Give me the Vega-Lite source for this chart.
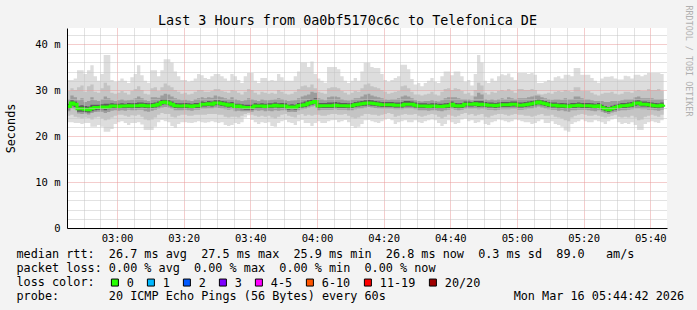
{
"$schema": "https://vega.github.io/schema/vega-lite/v6.json",
"width": 600, "height": 200,
"autosize": {"type": "none"},
"padding": {"left": 67, "top": 28, "right": 30, "bottom": 82},
"background": "#f3f3f3",
"view": {"fill": "#ffffff", "stroke": null},
"config": {"font": "DejaVu Sans Mono"},
"title": {"text": "Last 3 Hours from 0a0bf5170c6c to Telefonica DE", "font": "DejaVu Sans Mono", "fontSize": 13.4, "fontWeight": "normal", "color": "#000000", "anchor": "middle", "frame": "group", "dx": -19.5, "dy": 37, "offset": 4, "baseline": "alphabetic"},
"data": {"values": [
{"t":165,"med":26.4,"lo1":23.0,"hi1":32.2,"lo2":24.4,"hi2":29.8,"lo3":25.4,"hi3":28.0,"lo4":25.8,"hi4":27.0},
{"t":166,"med":27.2,"lo1":23.0,"hi1":32.2,"lo2":24.6,"hi2":30.4,"lo3":26.0,"hi3":28.8,"lo4":26.6,"hi4":27.8},
{"t":167,"med":26.9,"lo1":22.8,"hi1":32.5,"lo2":24.2,"hi2":30.0,"lo3":25.8,"hi3":28.4,"lo4":26.3,"hi4":27.5},
{"t":168,"med":25.9,"lo1":22.8,"hi1":34.3,"lo2":24.0,"hi2":30.6,"lo3":24.9,"hi3":27.8,"lo4":25.3,"hi4":26.6},
{"t":169,"med":25.9,"lo1":22.6,"hi1":34.3,"lo2":23.8,"hi2":31.0,"lo3":24.8,"hi3":28.2,"lo4":25.3,"hi4":26.7},
{"t":170,"med":25.8,"lo1":22.8,"hi1":33.5,"lo2":24.0,"hi2":29.6,"lo3":24.9,"hi3":27.4,"lo4":25.2,"hi4":26.5},
{"t":171,"med":25.7,"lo1":22.8,"hi1":34.3,"lo2":23.9,"hi2":30.8,"lo3":24.7,"hi3":27.6,"lo4":25.1,"hi4":26.4},
{"t":172,"med":26.0,"lo1":22.0,"hi1":35.4,"lo2":23.6,"hi2":31.2,"lo3":25.0,"hi3":28.4,"lo4":25.4,"hi4":26.8},
{"t":173,"med":26.2,"lo1":22.0,"hi1":33.0,"lo2":24.0,"hi2":29.6,"lo3":25.2,"hi3":27.8,"lo4":25.6,"hi4":26.8},
{"t":174,"med":26.2,"lo1":22.4,"hi1":32.0,"lo2":24.2,"hi2":29.4,"lo3":25.3,"hi3":27.6,"lo4":25.7,"hi4":26.8},
{"t":175,"med":26.3,"lo1":22.0,"hi1":33.5,"lo2":23.8,"hi2":30.4,"lo3":25.3,"hi3":28.0,"lo4":25.8,"hi4":26.9},
{"t":176,"med":26.2,"lo1":20.9,"hi1":37.6,"lo2":23.4,"hi2":31.6,"lo3":25.0,"hi3":28.6,"lo4":25.6,"hi4":27.0},
{"t":177,"med":26.3,"lo1":20.9,"hi1":37.6,"lo2":23.6,"hi2":31.0,"lo3":25.2,"hi3":28.2,"lo4":25.8,"hi4":27.0},
{"t":178,"med":26.5,"lo1":21.5,"hi1":32.2,"lo2":24.0,"hi2":29.4,"lo3":25.5,"hi3":27.8,"lo4":26.0,"hi4":27.1},
{"t":179,"med":26.5,"lo1":22.6,"hi1":31.8,"lo2":24.4,"hi2":29.2,"lo3":25.6,"hi3":27.6,"lo4":26.0,"hi4":27.0},
{"t":180,"med":26.4,"lo1":23.0,"hi1":32.0,"lo2":24.6,"hi2":29.4,"lo3":25.5,"hi3":27.8,"lo4":25.9,"hi4":27.0},
{"t":181,"med":26.5,"lo1":23.2,"hi1":32.5,"lo2":24.6,"hi2":29.8,"lo3":25.6,"hi3":28.0,"lo4":26.0,"hi4":27.1},
{"t":182,"med":26.5,"lo1":22.8,"hi1":32.0,"lo2":24.4,"hi2":29.4,"lo3":25.5,"hi3":27.7,"lo4":26.0,"hi4":27.0},
{"t":183,"med":26.6,"lo1":22.4,"hi1":31.5,"lo2":24.2,"hi2":29.0,"lo3":25.7,"hi3":27.8,"lo4":26.1,"hi4":27.2},
{"t":184,"med":26.5,"lo1":22.8,"hi1":32.8,"lo2":24.5,"hi2":29.8,"lo3":25.6,"hi3":27.9,"lo4":26.0,"hi4":27.1},
{"t":185,"med":26.6,"lo1":22.8,"hi1":33.5,"lo2":24.4,"hi2":30.2,"lo3":25.6,"hi3":28.2,"lo4":26.1,"hi4":27.2},
{"t":186,"med":26.6,"lo1":23.0,"hi1":35.4,"lo2":24.6,"hi2":30.8,"lo3":25.7,"hi3":28.6,"lo4":26.1,"hi4":27.3},
{"t":187,"med":26.7,"lo1":22.5,"hi1":33.2,"lo2":24.2,"hi2":30.0,"lo3":25.7,"hi3":28.2,"lo4":26.2,"hi4":27.3},
{"t":188,"med":26.6,"lo1":21.3,"hi1":32.0,"lo2":23.6,"hi2":29.2,"lo3":25.4,"hi3":27.8,"lo4":26.1,"hi4":27.2},
{"t":189,"med":26.5,"lo1":21.3,"hi1":31.6,"lo2":23.4,"hi2":29.0,"lo3":25.3,"hi3":27.6,"lo4":26.0,"hi4":27.1},
{"t":190,"med":26.6,"lo1":21.3,"hi1":34.3,"lo2":23.6,"hi2":30.4,"lo3":25.5,"hi3":28.4,"lo4":26.1,"hi4":27.2},
{"t":191,"med":26.7,"lo1":22.0,"hi1":34.3,"lo2":24.0,"hi2":30.6,"lo3":25.7,"hi3":28.4,"lo4":26.2,"hi4":27.3},
{"t":192,"med":26.9,"lo1":23.0,"hi1":33.0,"lo2":24.6,"hi2":29.8,"lo3":25.9,"hi3":28.3,"lo4":26.4,"hi4":27.5},
{"t":193,"med":27.3,"lo1":23.5,"hi1":34.3,"lo2":25.0,"hi2":30.6,"lo3":26.2,"hi3":28.8,"lo4":26.8,"hi4":28.0},
{"t":194,"med":27.4,"lo1":23.2,"hi1":36.7,"lo2":24.8,"hi2":31.4,"lo3":26.3,"hi3":29.2,"lo4":26.9,"hi4":28.0},
{"t":195,"med":27.2,"lo1":23.0,"hi1":36.7,"lo2":24.8,"hi2":31.0,"lo3":26.2,"hi3":29.0,"lo4":26.7,"hi4":27.8},
{"t":196,"med":26.9,"lo1":22.2,"hi1":36.0,"lo2":24.2,"hi2":30.6,"lo3":25.9,"hi3":28.6,"lo4":26.4,"hi4":27.5},
{"t":197,"med":26.6,"lo1":21.8,"hi1":34.0,"lo2":24.0,"hi2":30.0,"lo3":25.6,"hi3":28.2,"lo4":26.1,"hi4":27.2},
{"t":198,"med":26.5,"lo1":22.6,"hi1":33.0,"lo2":24.4,"hi2":29.6,"lo3":25.6,"hi3":28.0,"lo4":26.0,"hi4":27.1},
{"t":199,"med":26.5,"lo1":23.0,"hi1":32.2,"lo2":24.6,"hi2":29.2,"lo3":25.6,"hi3":27.8,"lo4":26.0,"hi4":27.1},
{"t":200,"med":26.6,"lo1":23.0,"hi1":32.2,"lo2":24.6,"hi2":29.4,"lo3":25.7,"hi3":27.9,"lo4":26.1,"hi4":27.2},
{"t":201,"med":26.5,"lo1":22.9,"hi1":31.8,"lo2":24.4,"hi2":29.0,"lo3":25.6,"hi3":27.7,"lo4":26.0,"hi4":27.1},
{"t":202,"med":26.4,"lo1":22.8,"hi1":32.0,"lo2":24.4,"hi2":29.2,"lo3":25.5,"hi3":27.6,"lo4":25.9,"hi4":27.0},
{"t":203,"med":26.6,"lo1":23.0,"hi1":32.5,"lo2":24.6,"hi2":29.6,"lo3":25.7,"hi3":28.0,"lo4":26.1,"hi4":27.2},
{"t":204,"med":26.6,"lo1":23.2,"hi1":33.5,"lo2":24.6,"hi2":30.0,"lo3":25.7,"hi3":28.2,"lo4":26.1,"hi4":27.2},
{"t":205,"med":26.9,"lo1":23.0,"hi1":33.2,"lo2":24.6,"hi2":30.0,"lo3":25.9,"hi3":28.4,"lo4":26.4,"hi4":27.5},
{"t":206,"med":26.9,"lo1":22.9,"hi1":32.6,"lo2":24.6,"hi2":29.6,"lo3":25.9,"hi3":28.2,"lo4":26.4,"hi4":27.4},
{"t":207,"med":27.0,"lo1":23.0,"hi1":32.4,"lo2":24.8,"hi2":29.6,"lo3":26.0,"hi3":28.4,"lo4":26.5,"hi4":27.6},
{"t":208,"med":26.9,"lo1":23.2,"hi1":33.0,"lo2":24.8,"hi2":29.8,"lo3":26.0,"hi3":28.3,"lo4":26.4,"hi4":27.5},
{"t":209,"med":27.2,"lo1":23.0,"hi1":33.5,"lo2":24.8,"hi2":30.2,"lo3":26.2,"hi3":28.8,"lo4":26.7,"hi4":27.8},
{"t":210,"med":27.2,"lo1":22.8,"hi1":33.5,"lo2":24.6,"hi2":30.2,"lo3":26.1,"hi3":28.6,"lo4":26.7,"hi4":27.8},
{"t":211,"med":27.0,"lo1":23.0,"hi1":33.0,"lo2":24.6,"hi2":29.8,"lo3":26.0,"hi3":28.4,"lo4":26.5,"hi4":27.6},
{"t":212,"med":26.9,"lo1":22.4,"hi1":32.5,"lo2":24.2,"hi2":29.6,"lo3":25.8,"hi3":28.2,"lo4":26.4,"hi4":27.5},
{"t":213,"med":26.7,"lo1":22.2,"hi1":32.0,"lo2":24.0,"hi2":29.4,"lo3":25.7,"hi3":28.0,"lo4":26.2,"hi4":27.3},
{"t":214,"med":26.8,"lo1":22.4,"hi1":33.5,"lo2":24.2,"hi2":30.0,"lo3":25.8,"hi3":28.4,"lo4":26.3,"hi4":27.4},
{"t":215,"med":26.4,"lo1":22.8,"hi1":33.0,"lo2":24.2,"hi2":29.8,"lo3":25.4,"hi3":28.0,"lo4":25.9,"hi4":27.0},
{"t":216,"med":26.5,"lo1":22.6,"hi1":32.2,"lo2":24.0,"hi2":29.4,"lo3":25.5,"hi3":27.8,"lo4":26.0,"hi4":27.0},
{"t":217,"med":26.3,"lo1":23.0,"hi1":31.5,"lo2":24.4,"hi2":29.0,"lo3":25.4,"hi3":27.6,"lo4":25.8,"hi4":26.9},
{"t":218,"med":26.2,"lo1":24.0,"hi1":33.0,"lo2":24.8,"hi2":29.6,"lo3":25.4,"hi3":27.8,"lo4":25.7,"hi4":26.8},
{"t":219,"med":26.2,"lo1":24.5,"hi1":33.7,"lo2":25.0,"hi2":30.2,"lo3":25.4,"hi3":28.2,"lo4":25.7,"hi4":26.8},
{"t":220,"med":26.2,"lo1":23.5,"hi1":33.7,"lo2":24.6,"hi2":30.0,"lo3":25.3,"hi3":28.0,"lo4":25.7,"hi4":26.8},
{"t":221,"med":26.5,"lo1":23.0,"hi1":32.0,"lo2":24.4,"hi2":29.4,"lo3":25.6,"hi3":27.8,"lo4":26.0,"hi4":27.1},
{"t":222,"med":26.5,"lo1":22.6,"hi1":31.5,"lo2":24.2,"hi2":29.0,"lo3":25.5,"hi3":27.6,"lo4":26.0,"hi4":27.0},
{"t":223,"med":26.5,"lo1":23.0,"hi1":32.6,"lo2":24.4,"hi2":29.6,"lo3":25.6,"hi3":28.0,"lo4":26.0,"hi4":27.1},
{"t":224,"med":26.4,"lo1":22.8,"hi1":32.6,"lo2":24.2,"hi2":29.4,"lo3":25.4,"hi3":27.8,"lo4":25.9,"hi4":27.0},
{"t":225,"med":26.5,"lo1":23.0,"hi1":32.0,"lo2":24.4,"hi2":29.2,"lo3":25.5,"hi3":27.8,"lo4":26.0,"hi4":27.1},
{"t":226,"med":26.5,"lo1":22.2,"hi1":32.2,"lo2":24.0,"hi2":29.4,"lo3":25.4,"hi3":27.9,"lo4":26.0,"hi4":27.1},
{"t":227,"med":26.7,"lo1":22.0,"hi1":32.0,"lo2":23.8,"hi2":29.2,"lo3":25.6,"hi3":28.0,"lo4":26.2,"hi4":27.3},
{"t":228,"med":26.5,"lo1":22.8,"hi1":33.5,"lo2":24.2,"hi2":30.0,"lo3":25.5,"hi3":28.2,"lo4":26.0,"hi4":27.1},
{"t":229,"med":26.6,"lo1":23.2,"hi1":32.8,"lo2":24.6,"hi2":29.6,"lo3":25.6,"hi3":28.0,"lo4":26.1,"hi4":27.2},
{"t":230,"med":26.5,"lo1":23.5,"hi1":32.0,"lo2":24.8,"hi2":29.2,"lo3":25.6,"hi3":27.8,"lo4":26.0,"hi4":27.1},
{"t":231,"med":26.2,"lo1":23.0,"hi1":32.0,"lo2":24.4,"hi2":29.0,"lo3":25.2,"hi3":27.6,"lo4":25.7,"hi4":26.8},
{"t":232,"med":26.3,"lo1":22.8,"hi1":32.0,"lo2":24.2,"hi2":29.2,"lo3":25.3,"hi3":27.7,"lo4":25.8,"hi4":26.9},
{"t":233,"med":26.2,"lo1":22.4,"hi1":33.0,"lo2":24.0,"hi2":29.6,"lo3":25.2,"hi3":27.8,"lo4":25.7,"hi4":26.8},
{"t":234,"med":26.6,"lo1":23.2,"hi1":34.0,"lo2":24.6,"hi2":30.2,"lo3":25.6,"hi3":28.2,"lo4":26.1,"hi4":27.2},
{"t":235,"med":26.7,"lo1":23.5,"hi1":36.0,"lo2":24.8,"hi2":30.8,"lo3":25.8,"hi3":28.6,"lo4":26.2,"hi4":27.3},
{"t":236,"med":26.8,"lo1":22.8,"hi1":36.0,"lo2":24.4,"hi2":31.0,"lo3":25.9,"hi3":28.8,"lo4":26.3,"hi4":27.5},
{"t":237,"med":27.1,"lo1":22.8,"hi1":35.0,"lo2":24.6,"hi2":30.6,"lo3":26.2,"hi3":29.0,"lo4":26.6,"hi4":27.8},
{"t":238,"med":27.3,"lo1":22.2,"hi1":36.2,"lo2":24.4,"hi2":31.2,"lo3":26.4,"hi3":29.6,"lo4":26.8,"hi4":28.0},
{"t":239,"med":27.5,"lo1":22.8,"hi1":33.5,"lo2":24.6,"hi2":30.4,"lo3":26.6,"hi3":29.4,"lo4":27.0,"hi4":28.2},
{"t":240,"med":26.5,"lo1":23.2,"hi1":32.5,"lo2":24.6,"hi2":29.6,"lo3":25.6,"hi3":28.2,"lo4":26.0,"hi4":27.2},
{"t":241,"med":26.6,"lo1":22.8,"hi1":32.0,"lo2":24.4,"hi2":29.4,"lo3":25.7,"hi3":28.0,"lo4":26.1,"hi4":27.2},
{"t":242,"med":26.6,"lo1":22.8,"hi1":31.6,"lo2":24.4,"hi2":29.2,"lo3":25.7,"hi3":27.8,"lo4":26.1,"hi4":27.2},
{"t":243,"med":26.6,"lo1":23.2,"hi1":35.0,"lo2":24.6,"hi2":30.4,"lo3":25.7,"hi3":28.4,"lo4":26.1,"hi4":27.3},
{"t":244,"med":26.6,"lo1":23.4,"hi1":35.0,"lo2":24.8,"hi2":30.6,"lo3":25.7,"hi3":28.6,"lo4":26.1,"hi4":27.3},
{"t":245,"med":26.7,"lo1":23.5,"hi1":35.0,"lo2":24.8,"hi2":30.6,"lo3":25.8,"hi3":28.6,"lo4":26.2,"hi4":27.4},
{"t":246,"med":26.6,"lo1":23.0,"hi1":34.5,"lo2":24.6,"hi2":30.4,"lo3":25.7,"hi3":28.4,"lo4":26.1,"hi4":27.3},
{"t":247,"med":26.6,"lo1":23.2,"hi1":33.0,"lo2":24.6,"hi2":29.8,"lo3":25.7,"hi3":28.0,"lo4":26.1,"hi4":27.2},
{"t":248,"med":26.6,"lo1":23.5,"hi1":32.0,"lo2":24.8,"hi2":29.4,"lo3":25.7,"hi3":27.8,"lo4":26.1,"hi4":27.2},
{"t":249,"med":26.5,"lo1":23.0,"hi1":31.5,"lo2":24.4,"hi2":29.0,"lo3":25.6,"hi3":27.7,"lo4":26.0,"hi4":27.1},
{"t":250,"med":26.6,"lo1":22.2,"hi1":32.0,"lo2":24.0,"hi2":29.4,"lo3":25.6,"hi3":27.9,"lo4":26.1,"hi4":27.2},
{"t":251,"med":26.8,"lo1":21.8,"hi1":32.6,"lo2":23.8,"hi2":29.8,"lo3":25.8,"hi3":28.2,"lo4":26.3,"hi4":27.4},
{"t":252,"med":26.9,"lo1":22.0,"hi1":32.0,"lo2":24.0,"hi2":29.6,"lo3":25.9,"hi3":28.2,"lo4":26.4,"hi4":27.5},
{"t":253,"med":27.0,"lo1":22.6,"hi1":34.0,"lo2":24.4,"hi2":30.4,"lo3":26.0,"hi3":28.6,"lo4":26.5,"hi4":27.6},
{"t":254,"med":27.1,"lo1":23.4,"hi1":35.9,"lo2":24.8,"hi2":31.2,"lo3":26.2,"hi3":29.0,"lo4":26.6,"hi4":27.8},
{"t":255,"med":27.2,"lo1":23.5,"hi1":35.9,"lo2":24.8,"hi2":31.4,"lo3":26.3,"hi3":29.2,"lo4":26.7,"hi4":27.9},
{"t":256,"med":27.1,"lo1":23.2,"hi1":35.0,"lo2":24.6,"hi2":30.8,"lo3":26.2,"hi3":28.8,"lo4":26.6,"hi4":27.8},
{"t":257,"med":27.0,"lo1":23.0,"hi1":34.8,"lo2":24.6,"hi2":30.6,"lo3":26.1,"hi3":28.6,"lo4":26.5,"hi4":27.6},
{"t":258,"med":26.9,"lo1":22.8,"hi1":34.8,"lo2":24.4,"hi2":30.4,"lo3":26.0,"hi3":28.4,"lo4":26.4,"hi4":27.5},
{"t":259,"med":26.8,"lo1":23.2,"hi1":33.5,"lo2":24.6,"hi2":30.0,"lo3":25.9,"hi3":28.2,"lo4":26.3,"hi4":27.4},
{"t":260,"med":26.8,"lo1":23.6,"hi1":32.2,"lo2":24.8,"hi2":29.6,"lo3":25.9,"hi3":28.0,"lo4":26.3,"hi4":27.4},
{"t":261,"med":26.8,"lo1":23.8,"hi1":31.8,"lo2":25.0,"hi2":29.2,"lo3":25.9,"hi3":27.9,"lo4":26.3,"hi4":27.4},
{"t":262,"med":26.8,"lo1":23.4,"hi1":32.2,"lo2":24.8,"hi2":29.4,"lo3":25.9,"hi3":28.0,"lo4":26.3,"hi4":27.4},
{"t":263,"med":26.7,"lo1":22.6,"hi1":32.6,"lo2":24.2,"hi2":29.6,"lo3":25.8,"hi3":28.0,"lo4":26.2,"hi4":27.3},
{"t":264,"med":26.7,"lo1":23.0,"hi1":33.0,"lo2":24.4,"hi2":29.8,"lo3":25.8,"hi3":28.2,"lo4":26.2,"hi4":27.3},
{"t":265,"med":26.7,"lo1":23.2,"hi1":35.5,"lo2":24.6,"hi2":30.8,"lo3":25.8,"hi3":28.6,"lo4":26.2,"hi4":27.4},
{"t":266,"med":26.9,"lo1":23.4,"hi1":35.5,"lo2":24.8,"hi2":31.0,"lo3":26.0,"hi3":28.8,"lo4":26.4,"hi4":27.6},
{"t":267,"med":26.9,"lo1":23.0,"hi1":34.5,"lo2":24.6,"hi2":30.4,"lo3":26.0,"hi3":28.6,"lo4":26.4,"hi4":27.6},
{"t":268,"med":26.9,"lo1":23.0,"hi1":32.4,"lo2":24.6,"hi2":29.6,"lo3":26.0,"hi3":28.2,"lo4":26.4,"hi4":27.5},
{"t":269,"med":26.7,"lo1":23.4,"hi1":31.2,"lo2":24.8,"hi2":29.0,"lo3":25.8,"hi3":27.8,"lo4":26.2,"hi4":27.3},
{"t":270,"med":26.5,"lo1":23.0,"hi1":31.5,"lo2":24.4,"hi2":29.0,"lo3":25.6,"hi3":27.6,"lo4":26.0,"hi4":27.1},
{"t":271,"med":26.5,"lo1":22.8,"hi1":30.8,"lo2":24.2,"hi2":28.8,"lo3":25.6,"hi3":27.5,"lo4":26.0,"hi4":27.1},
{"t":272,"med":26.5,"lo1":23.2,"hi1":31.5,"lo2":24.4,"hi2":29.0,"lo3":25.6,"hi3":27.6,"lo4":26.0,"hi4":27.1},
{"t":273,"med":26.4,"lo1":23.4,"hi1":32.0,"lo2":24.6,"hi2":29.2,"lo3":25.5,"hi3":27.6,"lo4":25.9,"hi4":27.0},
{"t":274,"med":26.5,"lo1":23.6,"hi1":32.6,"lo2":24.8,"hi2":29.6,"lo3":25.6,"hi3":27.8,"lo4":26.0,"hi4":27.1},
{"t":275,"med":26.5,"lo1":23.4,"hi1":31.8,"lo2":24.6,"hi2":29.0,"lo3":25.6,"hi3":27.6,"lo4":26.0,"hi4":27.1},
{"t":276,"med":26.4,"lo1":22.8,"hi1":31.5,"lo2":24.2,"hi2":28.8,"lo3":25.5,"hi3":27.5,"lo4":25.9,"hi4":27.0},
{"t":277,"med":26.4,"lo1":22.2,"hi1":33.0,"lo2":23.8,"hi2":29.6,"lo3":25.4,"hi3":27.8,"lo4":25.9,"hi4":27.0},
{"t":278,"med":26.5,"lo1":22.6,"hi1":34.0,"lo2":24.2,"hi2":30.2,"lo3":25.6,"hi3":28.2,"lo4":26.0,"hi4":27.1},
{"t":279,"med":26.6,"lo1":23.4,"hi1":34.0,"lo2":24.6,"hi2":30.4,"lo3":25.7,"hi3":28.4,"lo4":26.1,"hi4":27.2},
{"t":280,"med":26.9,"lo1":23.0,"hi1":33.2,"lo2":24.4,"hi2":30.0,"lo3":25.9,"hi3":28.4,"lo4":26.4,"hi4":27.5},
{"t":281,"med":26.6,"lo1":22.6,"hi1":34.0,"lo2":24.2,"hi2":30.4,"lo3":25.7,"hi3":28.4,"lo4":26.1,"hi4":27.2},
{"t":282,"med":26.5,"lo1":22.8,"hi1":34.0,"lo2":24.4,"hi2":30.2,"lo3":25.6,"hi3":28.2,"lo4":26.0,"hi4":27.1},
{"t":283,"med":26.6,"lo1":23.6,"hi1":33.0,"lo2":24.8,"hi2":29.8,"lo3":25.7,"hi3":28.0,"lo4":26.1,"hi4":27.2},
{"t":284,"med":26.9,"lo1":23.8,"hi1":31.8,"lo2":25.0,"hi2":29.2,"lo3":25.9,"hi3":28.0,"lo4":26.4,"hi4":27.5},
{"t":285,"med":26.9,"lo1":23.2,"hi1":32.2,"lo2":24.6,"hi2":29.4,"lo3":25.9,"hi3":28.0,"lo4":26.4,"hi4":27.5},
{"t":286,"med":26.9,"lo1":23.4,"hi1":31.0,"lo2":24.8,"hi2":28.8,"lo3":25.9,"hi3":27.8,"lo4":26.4,"hi4":27.4},
{"t":287,"med":27.0,"lo1":22.8,"hi1":33.5,"lo2":24.4,"hi2":30.0,"lo3":26.0,"hi3":28.6,"lo4":26.5,"hi4":27.6},
{"t":288,"med":26.8,"lo1":23.0,"hi1":37.6,"lo2":24.6,"hi2":31.6,"lo3":25.8,"hi3":29.4,"lo4":26.3,"hi4":27.6},
{"t":289,"med":26.9,"lo1":23.4,"hi1":36.0,"lo2":24.8,"hi2":31.0,"lo3":25.9,"hi3":29.0,"lo4":26.4,"hi4":27.6},
{"t":290,"med":26.8,"lo1":22.6,"hi1":32.0,"lo2":24.2,"hi2":29.4,"lo3":25.8,"hi3":28.0,"lo4":26.3,"hi4":27.4},
{"t":291,"med":26.7,"lo1":22.4,"hi1":31.5,"lo2":24.0,"hi2":29.0,"lo3":25.7,"hi3":27.8,"lo4":26.2,"hi4":27.3},
{"t":292,"med":26.7,"lo1":23.0,"hi1":32.5,"lo2":24.4,"hi2":29.6,"lo3":25.7,"hi3":28.0,"lo4":26.2,"hi4":27.3},
{"t":293,"med":26.6,"lo1":23.2,"hi1":32.0,"lo2":24.6,"hi2":29.4,"lo3":25.6,"hi3":27.8,"lo4":26.1,"hi4":27.2},
{"t":294,"med":26.7,"lo1":23.6,"hi1":33.0,"lo2":24.8,"hi2":29.8,"lo3":25.7,"hi3":28.0,"lo4":26.2,"hi4":27.3},
{"t":295,"med":26.8,"lo1":23.4,"hi1":33.4,"lo2":24.8,"hi2":30.0,"lo3":25.8,"hi3":28.2,"lo4":26.3,"hi4":27.4},
{"t":296,"med":26.8,"lo1":23.2,"hi1":33.2,"lo2":24.6,"hi2":29.8,"lo3":25.8,"hi3":28.0,"lo4":26.3,"hi4":27.4},
{"t":297,"med":26.8,"lo1":23.0,"hi1":33.6,"lo2":24.4,"hi2":30.2,"lo3":25.8,"hi3":28.4,"lo4":26.3,"hi4":27.4},
{"t":298,"med":26.9,"lo1":23.2,"hi1":32.8,"lo2":24.6,"hi2":29.8,"lo3":25.9,"hi3":28.2,"lo4":26.4,"hi4":27.5},
{"t":299,"med":26.9,"lo1":23.6,"hi1":32.2,"lo2":24.8,"hi2":29.4,"lo3":25.9,"hi3":28.0,"lo4":26.4,"hi4":27.5},
{"t":300,"med":26.7,"lo1":23.4,"hi1":33.7,"lo2":24.6,"hi2":30.2,"lo3":25.7,"hi3":28.2,"lo4":26.2,"hi4":27.3},
{"t":301,"med":26.7,"lo1":23.2,"hi1":33.7,"lo2":24.6,"hi2":30.2,"lo3":25.7,"hi3":28.2,"lo4":26.2,"hi4":27.3},
{"t":302,"med":26.8,"lo1":23.0,"hi1":33.7,"lo2":24.4,"hi2":30.0,"lo3":25.8,"hi3":28.2,"lo4":26.3,"hi4":27.4},
{"t":303,"med":26.9,"lo1":23.0,"hi1":33.5,"lo2":24.4,"hi2":30.0,"lo3":25.9,"hi3":28.4,"lo4":26.4,"hi4":27.5},
{"t":304,"med":27.0,"lo1":22.6,"hi1":33.7,"lo2":24.2,"hi2":30.2,"lo3":26.0,"hi3":28.6,"lo4":26.5,"hi4":27.6},
{"t":305,"med":27.2,"lo1":22.8,"hi1":33.3,"lo2":24.4,"hi2":30.0,"lo3":26.2,"hi3":28.8,"lo4":26.7,"hi4":27.8},
{"t":306,"med":27.4,"lo1":23.2,"hi1":31.5,"lo2":24.6,"hi2":29.2,"lo3":26.4,"hi3":28.8,"lo4":26.9,"hi4":28.0},
{"t":307,"med":27.2,"lo1":23.6,"hi1":31.5,"lo2":24.8,"hi2":29.0,"lo3":26.2,"hi3":28.4,"lo4":26.7,"hi4":27.8},
{"t":308,"med":27.0,"lo1":22.8,"hi1":31.8,"lo2":24.4,"hi2":29.2,"lo3":26.0,"hi3":28.2,"lo4":26.5,"hi4":27.6},
{"t":309,"med":26.8,"lo1":22.8,"hi1":32.2,"lo2":24.4,"hi2":29.4,"lo3":25.8,"hi3":28.0,"lo4":26.3,"hi4":27.4},
{"t":310,"med":26.7,"lo1":23.2,"hi1":32.0,"lo2":24.6,"hi2":29.2,"lo3":25.7,"hi3":27.9,"lo4":26.2,"hi4":27.3},
{"t":311,"med":26.7,"lo1":22.6,"hi1":32.8,"lo2":24.2,"hi2":29.6,"lo3":25.7,"hi3":28.0,"lo4":26.2,"hi4":27.3},
{"t":312,"med":26.5,"lo1":22.4,"hi1":33.0,"lo2":24.0,"hi2":29.8,"lo3":25.5,"hi3":28.0,"lo4":26.0,"hi4":27.1},
{"t":313,"med":26.6,"lo1":22.0,"hi1":32.5,"lo2":23.8,"hi2":29.6,"lo3":25.6,"hi3":27.9,"lo4":26.1,"hi4":27.2},
{"t":314,"med":26.5,"lo1":21.2,"hi1":33.3,"lo2":23.4,"hi2":30.0,"lo3":25.4,"hi3":28.2,"lo4":26.0,"hi4":27.1},
{"t":315,"med":26.4,"lo1":20.9,"hi1":33.3,"lo2":23.2,"hi2":29.8,"lo3":25.3,"hi3":28.0,"lo4":25.9,"hi4":27.0},
{"t":316,"med":26.6,"lo1":22.6,"hi1":33.0,"lo2":24.0,"hi2":29.6,"lo3":25.6,"hi3":28.0,"lo4":26.1,"hi4":27.2},
{"t":317,"med":26.6,"lo1":23.0,"hi1":34.8,"lo2":24.4,"hi2":30.6,"lo3":25.6,"hi3":28.6,"lo4":26.1,"hi4":27.2},
{"t":318,"med":26.7,"lo1":23.2,"hi1":34.8,"lo2":24.6,"hi2":30.6,"lo3":25.7,"hi3":28.6,"lo4":26.2,"hi4":27.3},
{"t":319,"med":26.6,"lo1":23.6,"hi1":33.3,"lo2":24.8,"hi2":29.8,"lo3":25.7,"hi3":28.2,"lo4":26.1,"hi4":27.2},
{"t":320,"med":26.6,"lo1":23.2,"hi1":33.3,"lo2":24.6,"hi2":29.8,"lo3":25.7,"hi3":28.0,"lo4":26.1,"hi4":27.2},
{"t":321,"med":26.6,"lo1":23.0,"hi1":33.3,"lo2":24.4,"hi2":29.8,"lo3":25.6,"hi3":28.0,"lo4":26.1,"hi4":27.2},
{"t":322,"med":26.5,"lo1":23.0,"hi1":32.6,"lo2":24.4,"hi2":29.4,"lo3":25.5,"hi3":27.8,"lo4":26.0,"hi4":27.1},
{"t":323,"med":26.4,"lo1":23.4,"hi1":32.0,"lo2":24.6,"hi2":29.0,"lo3":25.4,"hi3":27.6,"lo4":25.9,"hi4":27.0},
{"t":324,"med":26.6,"lo1":23.2,"hi1":31.6,"lo2":24.4,"hi2":28.8,"lo3":25.6,"hi3":27.6,"lo4":26.1,"hi4":27.2},
{"t":325,"med":26.2,"lo1":23.0,"hi1":32.5,"lo2":24.2,"hi2":29.2,"lo3":25.3,"hi3":27.6,"lo4":25.7,"hi4":26.8},
{"t":326,"med":25.9,"lo1":22.6,"hi1":32.9,"lo2":24.0,"hi2":29.4,"lo3":25.0,"hi3":27.4,"lo4":25.4,"hi4":26.5},
{"t":327,"med":25.7,"lo1":23.2,"hi1":32.9,"lo2":24.2,"hi2":29.4,"lo3":24.8,"hi3":27.4,"lo4":25.2,"hi4":26.3},
{"t":328,"med":26.0,"lo1":23.6,"hi1":33.0,"lo2":24.4,"hi2":29.6,"lo3":25.1,"hi3":27.6,"lo4":25.5,"hi4":26.6},
{"t":329,"med":26.2,"lo1":23.8,"hi1":32.5,"lo2":24.6,"hi2":29.2,"lo3":25.3,"hi3":27.6,"lo4":25.7,"hi4":26.8},
{"t":330,"med":26.4,"lo1":23.0,"hi1":32.3,"lo2":24.2,"hi2":29.0,"lo3":25.5,"hi3":27.6,"lo4":25.9,"hi4":27.0},
{"t":331,"med":26.6,"lo1":22.6,"hi1":32.3,"lo2":24.0,"hi2":29.2,"lo3":25.6,"hi3":27.8,"lo4":26.1,"hi4":27.2},
{"t":332,"med":26.6,"lo1":22.8,"hi1":33.1,"lo2":24.2,"hi2":29.6,"lo3":25.6,"hi3":28.0,"lo4":26.1,"hi4":27.2},
{"t":333,"med":26.7,"lo1":22.6,"hi1":33.0,"lo2":24.0,"hi2":29.6,"lo3":25.7,"hi3":28.0,"lo4":26.2,"hi4":27.3},
{"t":334,"med":26.8,"lo1":23.0,"hi1":32.5,"lo2":24.4,"hi2":29.4,"lo3":25.8,"hi3":28.0,"lo4":26.3,"hi4":27.4},
{"t":335,"med":27.1,"lo1":22.4,"hi1":33.3,"lo2":24.0,"hi2":29.8,"lo3":26.0,"hi3":28.4,"lo4":26.6,"hi4":27.7},
{"t":336,"med":27.2,"lo1":21.3,"hi1":33.3,"lo2":23.4,"hi2":30.0,"lo3":26.0,"hi3":28.6,"lo4":26.7,"hi4":27.8},
{"t":337,"med":26.9,"lo1":21.3,"hi1":33.0,"lo2":23.6,"hi2":29.8,"lo3":25.8,"hi3":28.2,"lo4":26.4,"hi4":27.5},
{"t":338,"med":26.9,"lo1":22.6,"hi1":33.3,"lo2":24.2,"hi2":29.8,"lo3":25.8,"hi3":28.2,"lo4":26.4,"hi4":27.5},
{"t":339,"med":26.8,"lo1":23.0,"hi1":33.7,"lo2":24.4,"hi2":30.2,"lo3":25.7,"hi3":28.2,"lo4":26.3,"hi4":27.4},
{"t":340,"med":26.7,"lo1":23.2,"hi1":33.7,"lo2":24.6,"hi2":30.0,"lo3":25.7,"hi3":28.2,"lo4":26.2,"hi4":27.3},
{"t":341,"med":26.6,"lo1":23.0,"hi1":33.7,"lo2":24.4,"hi2":30.0,"lo3":25.6,"hi3":28.0,"lo4":26.1,"hi4":27.2},
{"t":342,"med":26.5,"lo1":22.8,"hi1":33.7,"lo2":24.2,"hi2":30.2,"lo3":25.5,"hi3":28.0,"lo4":26.0,"hi4":27.1},
{"t":343,"med":26.7,"lo1":23.4,"hi1":33.5,"lo2":24.6,"hi2":29.8,"lo3":25.7,"hi3":28.0,"lo4":26.2,"hi4":27.3},
{"t":344,"med":26.8,"lo1":23.6,"hi1":32.8,"lo2":24.8,"hi2":29.4,"lo3":25.8,"hi3":28.0,"lo4":26.3,"hi4":27.4}
]},
"encoding": {
  "x": {"field": "t", "type": "quantitative", "scale": {"domain": [165, 345], "nice": false, "zero": false},
    "axis": {
      "values": [170,175,180,185,190,195,200,205,210,215,220,225,230,235,240,245,250,255,260,265,270,275,280,285,290,295,300,305,310,315,320,325,330,335,340],
      "labelExpr": "datum.value % 20 === 0 ? format(floor(datum.value / 60), '02d') + ':' + format(datum.value % 60, '02d') : ''",
      "grid": true,
      "gridColor": {"condition": {"test": "datum.value % 20 === 0", "value": "#e89a9a"}, "value": "#c4c4c4"},
      "gridDash": [1, 1], "gridWidth": 1,
      "ticks": false, "domainColor": "#000000", "domainWidth": 1,
      "labelFont": "DejaVu Sans Mono", "labelFontSize": 10.5, "labelColor": "#000000", "labelPadding": 5,
      "labelOverlap": false, "labelFlush": false, "labelBound": false,
      "title": [
        "median\u00a0rtt:\u00a0\u00a026.7\u00a0ms\u00a0avg\u00a0\u00a027.5\u00a0ms\u00a0max\u00a0\u00a025.9\u00a0ms\u00a0min\u00a0\u00a026.8\u00a0ms\u00a0now\u00a0\u00a00.3\u00a0ms\u00a0sd\u00a0\u00a089.0\u00a0\u00a0\u00a0am/s",
        "packet\u00a0loss:\u00a00.00\u00a0%\u00a0avg\u00a0\u00a00.00\u00a0%\u00a0max\u00a0\u00a00.00\u00a0%\u00a0min\u00a0\u00a00.00\u00a0%\u00a0now",
        "loss\u00a0color:",
        "probe:\u00a0\u00a0\u00a0\u00a0\u00a0\u00a0\u00a020\u00a0ICMP\u00a0Echo\u00a0Pings\u00a0(56\u00a0Bytes)\u00a0every\u00a060s\u00a0\u00a0\u00a0\u00a0\u00a0\u00a0\u00a0\u00a0\u00a0\u00a0\u00a0\u00a0\u00a0\u00a0\u00a0\u00a0\u00a0\u00a0Mon\u00a0Mar\u00a016\u00a005:44:42\u00a02026"
      ],
      "titleFont": "DejaVu Sans Mono", "titleFontSize": 11.8, "titleFontWeight": "normal", "titleColor": "#000000",
      "titleAlign": "left", "titleAnchor": "start", "titleX": -51, "titleY": 29.5, "titleBaseline": "alphabetic", "titleLineHeight": 14,
      "zindex": 1
    }
  }
},
"layer": [
  {"mark": {"type": "area", "interpolate": "step-after", "color": "#dddddd"},
   "encoding": {
     "y": {"field": "lo1", "type": "quantitative", "scale": {"domain": [0, 43.48], "nice": false, "zero": true},
       "axis": {
         "values": [0,2,4,6,8,10,12,14,16,18,20,22,24,26,28,30,32,34,36,38,40,42],
         "labelExpr": "datum.value === 0 ? '0' : (datum.value % 10 === 0 ? datum.value + ' m' : '')",
         "grid": true,
         "gridColor": {"condition": {"test": "datum.value % 10 === 0", "value": "#e89a9a"}, "value": "#c4c4c4"},
         "gridDash": [1, 1], "gridWidth": 1,
         "ticks": false, "domainColor": "#000000", "domainWidth": 1,
         "labelFont": "DejaVu Sans Mono", "labelFontSize": 10.5, "labelColor": "#000000", "labelPadding": 7, "labelOverlap": false,
         "title": "Seconds", "titleFont": "DejaVu Sans Mono", "titleFontSize": 11.8, "titleFontWeight": "normal", "titleColor": "#000000",
         "titleAngle": -90, "titleX": -57, "titleY": 100, "titleAlign": "center", "titleBaseline": "middle",
         "zindex": 1
       }},
     "y2": {"field": "hi1"}
   }},
  {"mark": {"type": "area", "interpolate": "step-after", "color": "#c4c4c4"},
   "encoding": {"y": {"field": "lo2", "type": "quantitative", "axis": null}, "y2": {"field": "hi2"}}},
  {"mark": {"type": "area", "interpolate": "step-after", "color": "#9c9c9c"},
   "encoding": {"y": {"field": "lo3", "type": "quantitative", "axis": null}, "y2": {"field": "hi3"}}},
  {"mark": {"type": "area", "interpolate": "step-after", "color": "#5c5c5c"},
   "encoding": {"y": {"field": "lo4", "type": "quantitative", "axis": null}, "y2": {"field": "hi4"}}},
  {"mark": {"type": "line", "interpolate": "step-after", "strokeWidth": 3, "strokeCap": "butt", "color": "#26ff00"},
   "encoding": {
     "y": {"field": "med", "type": "quantitative",
       "axis": {"orient": "right", "labels": false, "ticks": false, "domain": false, "grid": false,
         "title": "RRDTOOL / TOBI OETIKER", "titleFont": "DejaVu Sans Mono", "titleFontSize": 8.4, "titleFontWeight": "normal",
         "titleColor": "#b0b0b0", "titleAngle": 90, "titleX": 21.5, "titleY": 32.5, "titleAlign": "center", "titleBaseline": "middle"}}
   }},
  {"mark": {"type": "point", "shape": "square", "filled": true, "size": 0},
   "encoding": {
     "y": {"field": "med", "type": "quantitative", "axis": null},
     "color": {"datum": "0", "type": "nominal",
       "scale": {"domain": ["0","1","2","3","4-5","6-10","11-19","20/20"],
                 "range": ["#26ff00","#00b8ff","#0059ff","#7e00ff","#ff00ff","#ff5500","#ff0000","#a00000"]},
       "legend": {"orient": "none", "legendX": 42, "legendY": 248.5, "direction": "horizontal", "columns": 8, "title": null,
         "symbolType": "square", "symbolSize": 49, "symbolStrokeWidth": 1, "symbolStrokeColor": "#000000", "symbolOpacity": 1,
         "labelFont": "DejaVu Sans Mono", "labelFontSize": 11.8, "labelColor": "#000000", "labelOffset": 6, "labelLimit": 0,
         "columnPadding": 11, "padding": 0}
     }
   }}
],
"resolve": {"axis": {"y": "independent"}}
}
